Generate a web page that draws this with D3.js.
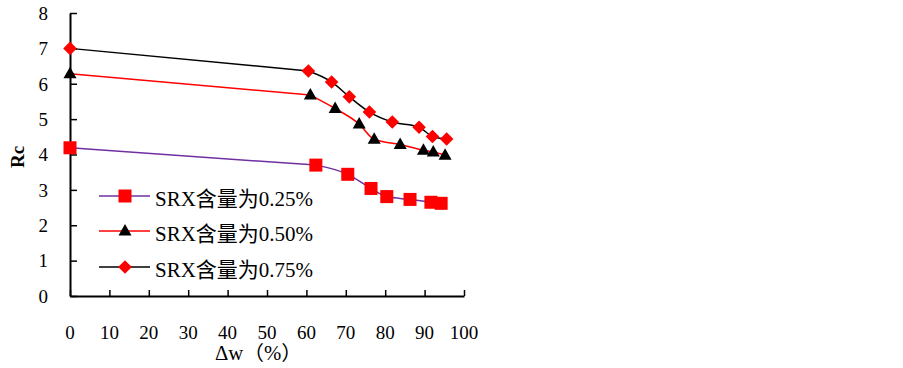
<!DOCTYPE html>
<html lang="zh">
<head>
<meta charset="UTF-8">
<title>Rc vs Δw</title>
<script src="https://d3js.org/d3.v7.min.js"></script>
<style>
  body { margin: 0; background: #fff; }
</style>
</head>
<body>
<svg id="chart" width="903" height="368"></svg>
<script>
// data
const seriesNames = ['SRX含量为0.25%', 'SRX含量为0.50%', 'SRX含量为0.75%'];
const x025 = [0, 62.4, 70.5, 76.4, 80.4, 86.3, 91.6, 94.2];
const y025 = [4.19, 3.70, 3.44, 3.04, 2.81, 2.73, 2.65, 2.62];
const x050 = [0, 61.0, 67.3, 73.4, 77.2, 83.8, 89.7, 92.2, 95.2];
const y050 = [6.28, 5.68, 5.30, 4.86, 4.43, 4.28, 4.12, 4.07, 3.98];
const x075 = [0, 60.5, 66.4, 70.9, 76.0, 81.8, 88.6, 92.0, 95.6];
const y075 = [7.0, 6.36, 6.05, 5.63, 5.20, 4.92, 4.77, 4.51, 4.44];
const xTicks = [0, 10, 20, 30, 40, 50, 60, 70, 80, 90, 100];
const yTicks = [0, 1, 2, 3, 4, 5, 6, 7, 8];

const lineColors = ['#7030a0', '#ff0000', '#000000'];
const markerColors = ['#ff0000', '#000000', '#ff0000'];
const serif = "'Liberation Serif', 'DejaVu Serif', serif";
const cjk = "'Liberation Serif', 'Noto Sans CJK SC', serif";

// marker drawers: square, triangle, diamond (square turned 45deg)
function marker(g, i) {
  if (i === 0) {
    g.append('rect').attr('x', -6.5).attr('y', -6.5).attr('width', 13).attr('height', 13)
      .attr('fill', markerColors[i]);
  } else if (i === 1) {
    g.append('path').attr('d', 'M0,-7L6.5,4.5L-6.5,4.5Z').attr('fill', markerColors[i]);
  } else {
    g.append('path').attr('d', 'M0,-6.8L6.8,0L0,6.8L-6.8,0Z').attr('fill', markerColors[i]);
  }
}

const series = [
  x025.map((x, i) => ({ x: x, y: y025[i] })),
  x050.map((x, i) => ({ x: x, y: y050[i] })),
  x075.map((x, i) => ({ x: x, y: y075[i] }))
];

const svg = d3.select('#chart');
const x = d3.scaleLinear().domain([0, 100]).range([70, 464]);
const y = d3.scaleLinear().domain([0, 8]).range([296, 13]);

// axes
const yAxis = svg.append('g')
  .attr('transform', 'translate(70,0)')
  .call(d3.axisRight(y).tickValues(yTicks).tickSize(7).tickSizeOuter(0).tickFormat(''));
const xAxis = svg.append('g')
  .attr('transform', 'translate(0,296)')
  .call(d3.axisTop(x).tickValues(xTicks).tickSize(6).tickSizeOuter(0).tickFormat(''));
[yAxis, xAxis].forEach(g => {
  g.select('.domain').attr('stroke', '#000').attr('stroke-width', 2);
  g.selectAll('.tick line').attr('stroke', '#000').attr('stroke-width', 1.5);
});

svg.append('g').selectAll('text')
  .data(yTicks).enter().append('text')
  .attr('x', 48)
  .attr('y', d => y(d))
  .attr('dy', '0.36em')
  .attr('text-anchor', 'end')
  .attr('font-family', serif)
  .attr('font-size', 19)
  .text(d => d);

svg.append('g').selectAll('text')
  .data(xTicks).enter().append('text')
  .attr('x', d => x(d))
  .attr('y', 332)
  .attr('dy', '0.36em')
  .attr('text-anchor', 'middle')
  .attr('font-family', serif)
  .attr('font-size', 19)
  .text(d => d);

svg.append('text')
  .attr('transform', 'translate(24,157) rotate(-90)')
  .attr('text-anchor', 'middle')
  .attr('font-family', serif)
  .attr('font-size', 19)
  .attr('font-weight', 'bold')
  .text('Rc');

svg.append('text')
  .attr('x', 215)
  .attr('y', 360)
  .attr('font-family', cjk)
  .attr('font-size', 20)
  .attr('textLength', 87)
  .attr('lengthAdjust', 'spacingAndGlyphs')
  .text('Δw（%）');

// lines: first long segment straight, the rest smoothed
const lineStraight = d3.line().x(d => x(d.x)).y(d => y(d.y));
const lineSmooth = d3.line().x(d => x(d.x)).y(d => y(d.y)).curve(d3.curveMonotoneX);

series.forEach((data, i) => {
  svg.append('path')
    .attr('fill', 'none')
    .attr('stroke', lineColors[i])
    .attr('stroke-width', 1.5)
    .attr('d', lineStraight(data.slice(0, 2)) + lineSmooth(data.slice(1)));

  svg.append('g').selectAll('g')
    .data(data).enter().append('g')
    .attr('transform', d => `translate(${x(d.x)},${y(d.y)})`)
    .each(function() { marker(d3.select(this), i); });
});

// legend
const legendRows = [196, 231, 267];
seriesNames.forEach((name, i) => {
  const g = svg.append('g').attr('transform', `translate(0,${legendRows[i]})`);
  g.append('line')
    .attr('x1', 99).attr('x2', 150)
    .attr('stroke', lineColors[i]).attr('stroke-width', 1.5);
  marker(g.append('g').attr('transform', 'translate(125,0)'), i);
  g.append('text')
    .attr('x', 155)
    .attr('dy', '0.47em')
    .attr('font-family', cjk)
    .attr('font-size', 21)
    .attr('textLength', 158)
    .attr('lengthAdjust', 'spacingAndGlyphs')
    .text(name);
});
</script>
</body>
</html>
